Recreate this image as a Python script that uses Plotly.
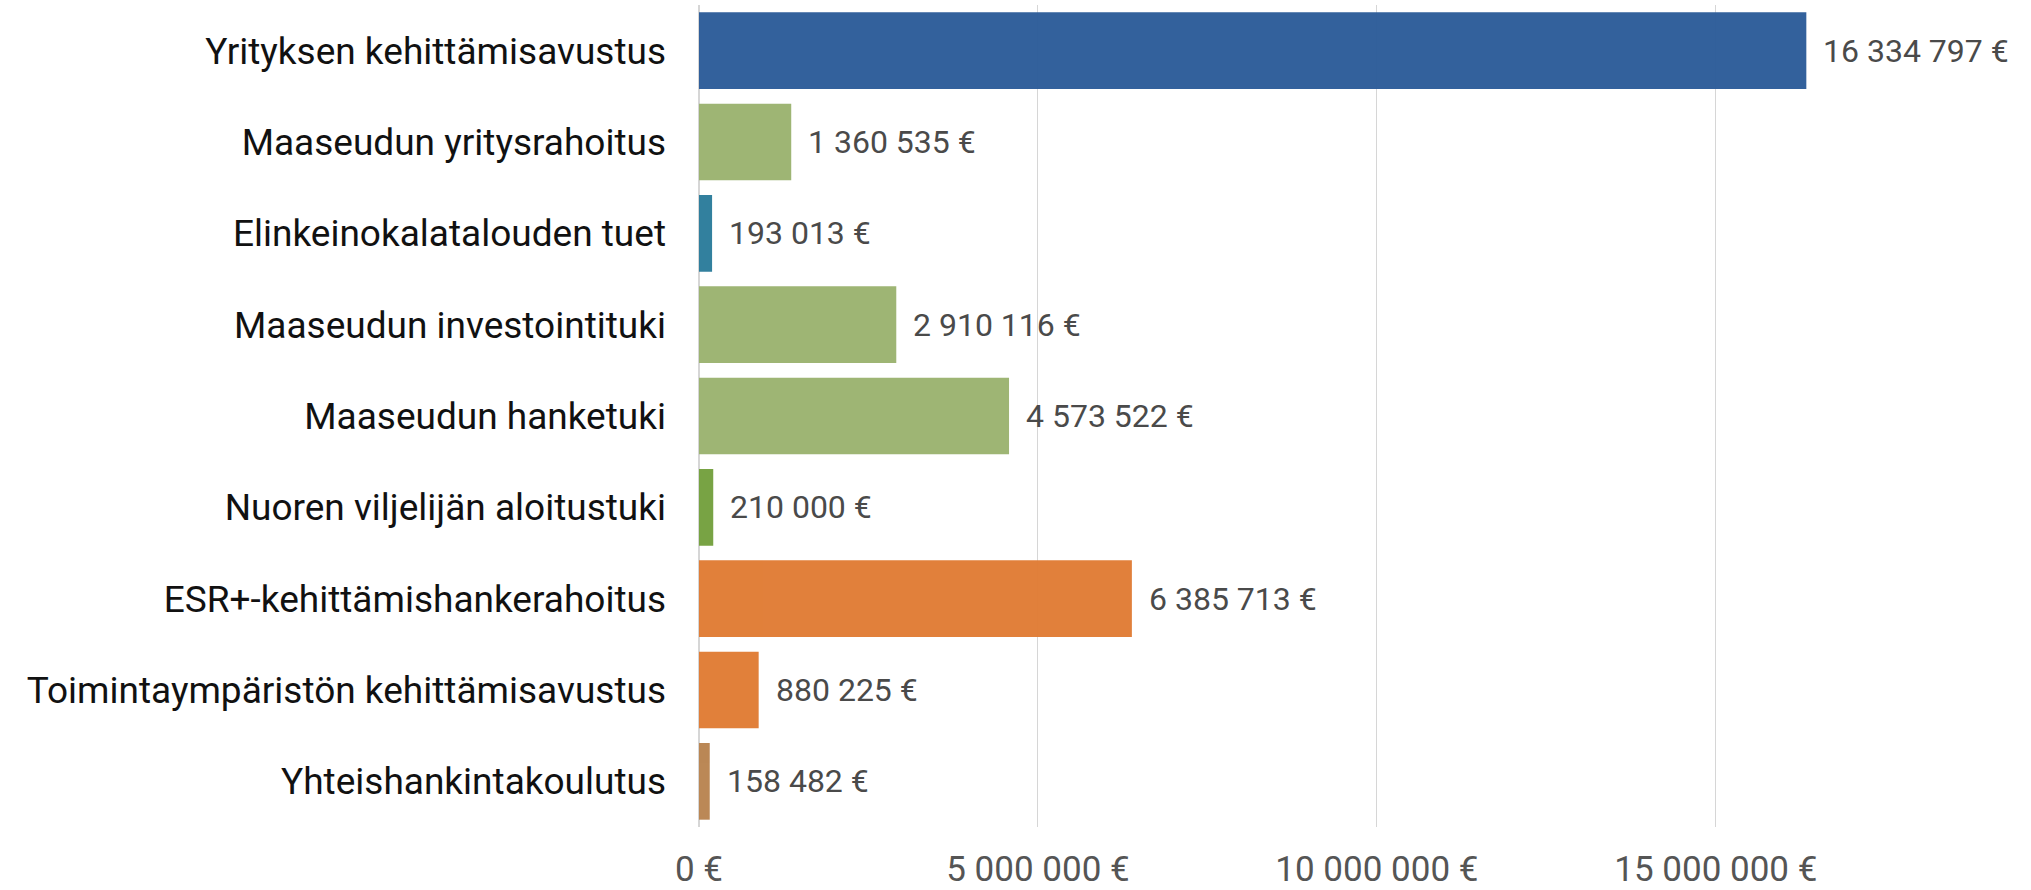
import plotly.graph_objects as go

categories = [
    "Yrityksen kehittämisavustus",
    "Maaseudun yritysrahoitus",
    "Elinkeinokalatalouden tuet",
    "Maaseudun investointituki",
    "Maaseudun hanketuki",
    "Nuoren viljelijän aloitustuki",
    "ESR+-kehittämishankerahoitus",
    "Toimintaympäristön kehittämisavustus",
    "Yhteishankintakoulutus",
]
values = [16334797, 1360535, 193013, 2910116, 4573522, 210000, 6385713, 880225, 158482]
colors = ["#2b5b98", "#9bb26f", "#2a7b9b", "#9bb26f", "#9bb26f", "#73a03d", "#e07b33", "#e07b33", "#b8834f"]
tick_vals = [0, 5000000, 10000000, 15000000]


def fmt(v):
    return f"{v:,}".replace(",", " ") + " €"


fig = go.Figure(go.Bar(
    y=categories,
    x=values,
    orientation="h",
    marker=dict(color=colors, line=dict(width=0)),
    opacity=0.96,
    width=0.84,
    hoverinfo="x+y",
))

for cat, v in zip(categories, values):
    fig.add_annotation(
        x=v, y=cat, xref="x", yref="y",
        text=fmt(v), showarrow=False,
        xanchor="left", yanchor="middle", xshift=15,
        font=dict(family="Roboto", size=32, color="#4a4a4a"),
    )

fig.update_layout(
    width=2031,
    height=890,
    margin=dict(l=699, r=44, t=5, b=63),
    paper_bgcolor="white",
    plot_bgcolor="white",
    showlegend=False,
    font=dict(family="Roboto"),
)
fig.update_yaxes(
    autorange="reversed",
    automargin=False,
    tickfont=dict(family="Roboto", size=37, color="#111111"),
    ticks="",
    ticklen=0,
    ticklabelstandoff=32,
    showgrid=False,
)
fig.update_xaxes(
    range=[0, 19000000],
    automargin=False,
    tickvals=tick_vals,
    ticktext=[fmt(v) for v in tick_vals],
    tickfont=dict(family="Roboto", size=35, color="#555555"),
    showgrid=True,
    gridcolor="#d6d6d6",
    gridwidth=1,
    zeroline=True,
    zerolinecolor="#d6d6d6",
    zerolinewidth=2,
    ticks="",
    ticklabelstandoff=18,
)

fig.write_html("out.html")
